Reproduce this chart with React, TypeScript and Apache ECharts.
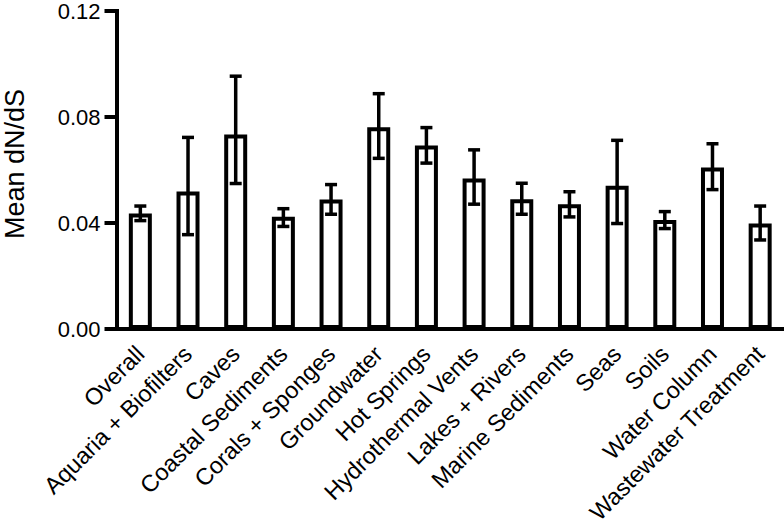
import React, { useEffect, useRef } from "react";
import * as echarts from "echarts";

const categories = [
  "Overall",
  "Aquaria + Biofilters",
  "Caves",
  "Coastal Sediments",
  "Corals + Sponges",
  "Groundwater",
  "Hot Springs",
  "Hydrothermal Vents",
  "Lakes + Rivers",
  "Marine Sediments",
  "Seas",
  "Soils",
  "Water Column",
  "Wastewater Treatment",
];
const means = [0.0436, 0.0519, 0.0734, 0.0424, 0.0489, 0.0761, 0.0692, 0.0568, 0.049, 0.0471, 0.0541, 0.0411, 0.0609, 0.0398];
const errLow = [0.0409, 0.0356, 0.0549, 0.0387, 0.0433, 0.0644, 0.0626, 0.0471, 0.0433, 0.0423, 0.0398, 0.0379, 0.0526, 0.0336];
const errHigh = [0.0464, 0.0723, 0.0954, 0.0454, 0.0545, 0.0888, 0.076, 0.0676, 0.055, 0.0518, 0.0712, 0.0443, 0.0699, 0.0464];
const yTicks = [0, 0.04, 0.08, 0.12];
const yTitle = "Mean dN/dS";

const FONT = "'Liberation Sans', Arial, Helvetica, sans-serif";

export default function App() {
  const ref = useRef<HTMLDivElement>(null);
  useEffect(() => {
    if (!ref.current) return;
    const chart = echarts.init(ref.current, undefined, { renderer: "svg" });
    const errData = categories.map((_, i) => [i, errLow[i], errHigh[i]]);
    chart.setOption({
      animation: false,
      backgroundColor: "#fff",
      grid: { left: 116.5, right: -4.5, top: 10, bottom: 203, containLabel: false },
      xAxis: {
        type: "category",
        data: categories,
        axisLine: { lineStyle: { color: "#000", width: 4, cap: "square" } },
        axisTick: { alignWithLabel: true, length: 12, lineStyle: { color: "#000", width: 4 } },
        axisLabel: {
          rotate: 45,
          interval: 0,
          margin: 21,
          color: "#000",
          fontSize: 23.5,
          fontFamily: FONT,
        },
      },
      yAxis: {
        type: "value",
        min: yTicks[0],
        max: yTicks[yTicks.length - 1],
        interval: 0.04,
        splitLine: { show: false },
        axisLine: { show: true, lineStyle: { color: "#000", width: 4, cap: "square" } },
        axisTick: { show: true, length: 12, lineStyle: { color: "#000", width: 4 } },
        axisLabel: {
          margin: 16,
          color: "#000",
          fontSize: 22,
          fontFamily: FONT,
          formatter: (v: number) => v.toFixed(2),
        },
      },
      graphic: [
        {
          type: "text",
          x: 14.5,
          y: 164,
          rotation: Math.PI / 2,
          style: {
            text: yTitle,
            fill: "#000",
            font: `27px ${FONT}`,
            align: "center",
            verticalAlign: "middle",
          },
        },
      ],
      series: [
        {
          type: "bar",
          data: means,
          barWidth: 23,
          itemStyle: { color: "#fff", borderColor: "#000", borderWidth: 4 },
          z: 2,
        },
        {
          type: "custom",
          data: errData,
          encode: { x: 0, y: [1, 2] },
          z: 3,
          renderItem: (params: any, api: any) => {
            const idx = api.value(0);
            const lo = api.coord([idx, api.value(1)]);
            const hi = api.coord([idx, api.value(2)]);
            const hw = 6;
            const st = { stroke: "#000", lineWidth: 3.5 };
            return {
              type: "group",
              children: [
                { type: "line", shape: { x1: lo[0], y1: lo[1], x2: hi[0], y2: hi[1] }, style: st },
                { type: "line", shape: { x1: lo[0] - hw, y1: lo[1], x2: lo[0] + hw, y2: lo[1] }, style: st },
                { type: "line", shape: { x1: hi[0] - hw, y1: hi[1], x2: hi[0] + hw, y2: hi[1] }, style: st },
              ],
            };
          },
        },
      ],
    });
    return () => chart.dispose();
  }, []);
  return (
    <div
      ref={ref}
      style={{ position: "absolute", left: 0, top: 0, width: 784, height: 532 }}
    />
  );
}
